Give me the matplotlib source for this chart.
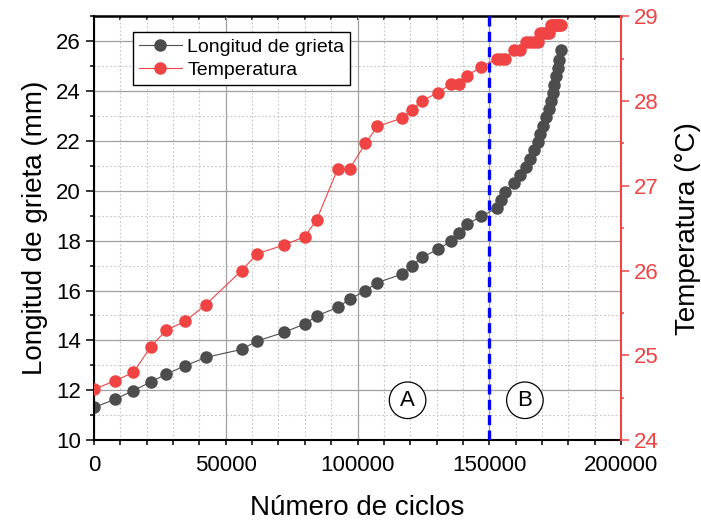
import numpy as np
import matplotlib.pyplot as plt
from matplotlib.ticker import MultipleLocator

plt.rcParams['font.family'] = ['Liberation Sans', 'DejaVu Sans']

# numero de ciclos (mismo eje x para las dos series)
ciclos = [0, 8000, 15000, 21500, 27500, 34500, 42500, 56000, 62000, 72000,
          80000, 84500, 92500, 97000, 103000, 107500, 117000, 120500, 124500,
          130500, 135500, 138500, 141500, 147000,
          152900, 154500, 156000, 159200, 161600, 164000, 165500, 166900,
          168300, 169400, 170500, 171600, 172600, 173300, 174000, 174700,
          175400, 176000, 176600, 177300]

# longitud de grieta (mm)
grieta = [11.31, 11.64, 11.99, 12.33, 12.65, 12.98, 13.32, 13.64, 13.98, 14.32,
          14.66, 14.98, 15.33, 15.65, 15.99, 16.32, 16.66, 16.99, 17.33,
          17.65, 17.98, 18.30, 18.65, 18.98,
          19.31, 19.64, 19.97, 20.30, 20.63, 20.96, 21.29, 21.62,
          21.95, 22.28, 22.61, 22.94, 23.27, 23.60, 23.93, 24.26,
          24.59, 24.92, 25.25, 25.64]

# temperatura (C)
temp = [24.6, 24.7, 24.8, 25.1, 25.3, 25.4, 25.6, 26.0, 26.2, 26.3,
        26.4, 26.6, 27.2, 27.2, 27.5, 27.7, 27.8, 27.9, 28.0,
        28.1, 28.2, 28.2, 28.3, 28.4,
        28.5, 28.5, 28.5, 28.6, 28.6, 28.7, 28.7, 28.7,
        28.7, 28.8, 28.8, 28.8, 28.8, 28.9, 28.9, 28.9,
        28.9, 28.9, 28.9, 28.9]

x_limite = 150000
zonas = ['A', 'B']
zonas_x = [119000, 163500]
zonas_y = [11.6, 11.6]

gris = '#4d4d4d'
rojo = '#f04444'

fig = plt.figure(figsize=(7.01, 5.24), dpi=100)
ax = fig.add_axes([0.134, 0.160, 0.752, 0.809])
ax2 = ax.twinx()

# grilla
ax.set_axisbelow(True)
ax.xaxis.set_major_locator(MultipleLocator(50000))
ax.xaxis.set_minor_locator(MultipleLocator(10000))
ax.yaxis.set_major_locator(MultipleLocator(2))
ax.yaxis.set_minor_locator(MultipleLocator(1))
ax.grid(which='major', color='#a0a0a0', lw=0.9, ls='-')
ax.grid(which='minor', color='#c4c4c4', lw=0.8, ls=(0, (1.5, 2)))

l1, = ax.plot(ciclos, grieta, '-', color=gris, lw=0.8, marker='o', ms=8,
              mfc=gris, mec=gris, label='Longitud de grieta')
l2, = ax2.plot(ciclos, temp, '-', color=rojo, lw=0.8, marker='o', ms=8,
               mfc=rojo, mec=rojo, label='Temperatura')

ax.axvline(x_limite, color='#0000ff', lw=2.4, dashes=(3, 1.6), zorder=5)

for z, zx, zy in zip(zonas, zonas_x, zonas_y):
    ax.text(zx, zy, z, fontsize=16, ha='center', va='center', zorder=6,
            bbox=dict(boxstyle='circle,pad=0.35', fc='white', ec='black', lw=0.9))

ax.set_xlim(0, 200000)
ax.set_ylim(10, 27)
ax2.set_ylim(24, 29)
ax2.yaxis.set_major_locator(MultipleLocator(1))
ax2.yaxis.set_minor_locator(MultipleLocator(0.5))

ax.set_xlabel('Número de ciclos', fontsize=20, labelpad=14)
ax.set_ylabel('Longitud de grieta (mm)', fontsize=20, labelpad=6)
ax2.set_ylabel('Temperatura (°C)', fontsize=20, labelpad=12)

# ticks
ax.tick_params(axis='both', which='both', labelsize=16)
ax.tick_params(axis='x', which='both', direction='out', length=3.5, width=1.1, pad=7)
ax.tick_params(axis='y', which='major', direction='out', length=6, width=1.1)
ax.tick_params(axis='y', which='minor', direction='out', length=3, width=1.1)
ax2.tick_params(axis='y', which='major', direction='out', length=5.5, width=1.1,
                colors=rojo, labelsize=16)
ax2.tick_params(axis='y', which='minor', direction='out', length=2.5, width=1.1,
                colors=rojo)

top = ax.secondary_xaxis('top')
top.xaxis.set_major_locator(MultipleLocator(10000))
top.tick_params(axis='x', direction='in', length=3, width=1.1, labeltop=False)
top.spines['top'].set_linewidth(1.8)

for s in ['left', 'bottom']:
    ax.spines[s].set_linewidth(1.5)
for s in ['left', 'bottom', 'top']:
    ax2.spines[s].set_visible(False)
ax.spines['right'].set_visible(False)
ax2.spines['right'].set_color(rojo)
ax2.spines['right'].set_linewidth(1.5)

leg = ax2.legend([l1, l2], ['Longitud de grieta', 'Temperatura'],
                 loc='upper left', bbox_to_anchor=(0.074, 0.962), borderaxespad=0,
                 fontsize=14, fancybox=False, framealpha=1, edgecolor='black',
                 handlelength=2.2, borderpad=0.3, labelspacing=0.3,
                 handletextpad=0.3)
leg.get_frame().set_linewidth(1.0)

fig.savefig('out.png', dpi=100)
